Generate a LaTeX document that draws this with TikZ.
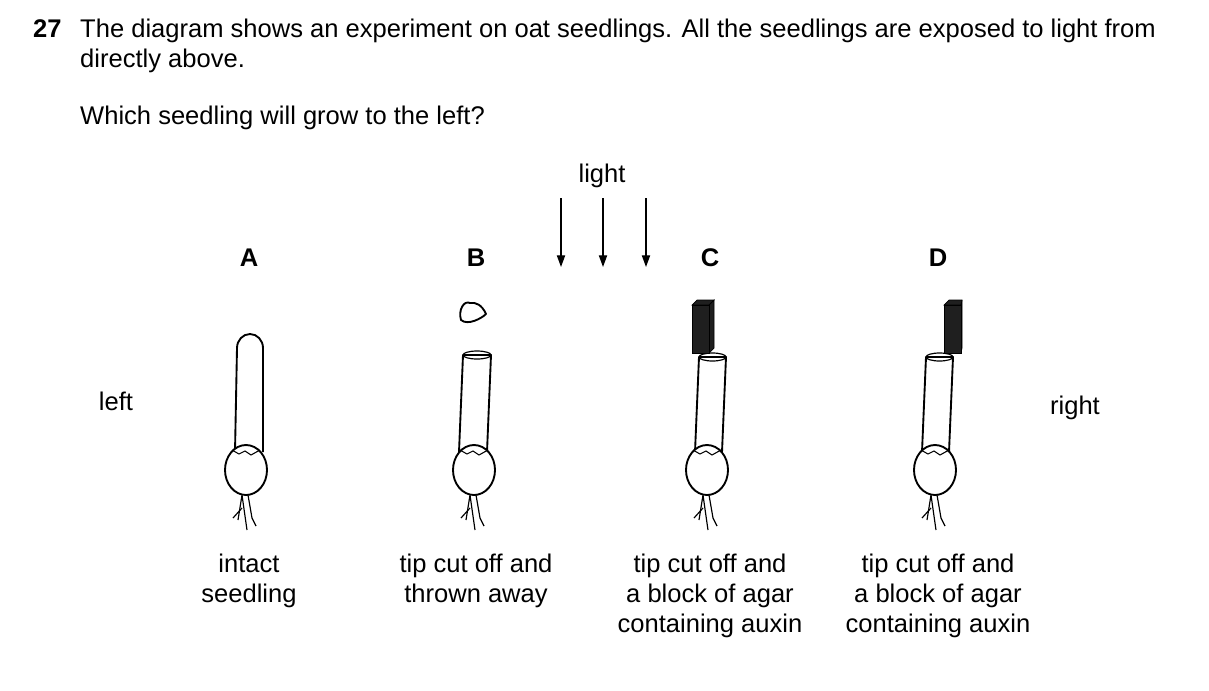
\documentclass[tikz,border=0pt]{standalone}
\usepackage{fontspec}
\setmainfont{Liberation Sans}
\usetikzlibrary{arrows.meta}
\tikzset{
  txt/.style={font=\fontsize{21.8}{25.5}\selectfont, inner sep=0pt},
  lbl/.style={txt, font=\fontsize{21.8}{25.5}\selectfont\bfseries},
  caption/.style={txt, align=center, anchor=north},
  outline/.style={draw, line width=1.6pt, line join=round},
  root/.style={draw, line width=1pt},
  ray/.style={draw, line width=1.2pt, -{Triangle[length=10pt, width=7pt]}},
  agar/.style={fill=black!88, draw=black, line width=0.6pt}
}
% lower part of a seedling: seed and roots, origin at the seed centre
\newcommand{\seedbase}{%
  \draw[outline, fill=white] (0,0) ellipse (21 and 25);
  \draw[line width=0.9pt] (-14,-20) -- (-7,-16) -- (-1,-19) -- (5,-15) -- (14,-20);
  \draw[root] (-4,25) -- (-8,50) (-4,25) -- (1,60) (2,25) -- (6,48) -- (10,56);
  \draw[root] (-4,38) -- (-13,48);
}
\begin{document}
\begin{tikzpicture}[x=0.03cm, y=-0.03cm]
  \useasboundingbox (0,0) rectangle (1209,690);
  % question text
  \node[txt, anchor=base west, font=\fontsize{21.8}{25.5}\selectfont\bfseries] (num) at (33,37) {27};
  \node[txt, anchor=base west] (q1) at (80,37) {The diagram shows an experiment on oat seedlings. All the seedlings are exposed to light from};
  \node[txt, anchor=base west] (q2) at (80,67) {directly above.};
  \node[txt, anchor=base west] (q3) at (80,124) {Which seedling will grow to the left?};

  % light
  \node[txt, anchor=base] (light) at (602,182) {light};
  \foreach \x [count=\i] in {561,603,646} {
    \coordinate (r\i a) at (\x,198);
    \coordinate (r\i b) at (\x,267);
    \path[ray] (r\i a) -- (r\i b);
  }
  \node[txt, anchor=base] (left) at (116,410) {left};
  \node[txt, anchor=base] (right) at (1075,414) {right};

  % letters
  \node[lbl, anchor=base] (A) at (249,266) {A};
  \node[lbl, anchor=base] (B) at (476,266) {B};
  \node[lbl, anchor=base] (C) at (710,266) {C};
  \node[lbl, anchor=base] (D) at (938,266) {D};

  % seedling A: intact
  \draw[outline, fill=white] (235,452) -- (237,348) arc[start angle=180, end angle=360, x radius=13, y radius=14] -- (263,452);
  \begin{scope}[shift={(246,470)}] \seedbase \end{scope}

  % seedling B: tip removed
  \draw[outline] (470,303) .. controls (464,300) and (458,310) .. (461,320)
     .. controls (468,326) and (482,318) .. (486,314) .. controls (482,305) and (476,302) .. (470,303);
  \draw[outline, fill=white] (459,452) -- (463,355) -- (491,355) -- (487,452);
  \draw[line width=1pt] (477,355) ellipse (14 and 4);
  \begin{scope}[shift={(474,470)}] \seedbase \end{scope}

  % seedling C: agar block on the left of the cut surface
  \draw[outline, fill=white] (695,452) -- (699,357) -- (726,357) -- (722,452);
  \draw[line width=1pt] (712.5,357) ellipse (13.5 and 4);
  \draw[agar] (692,305) -- (697,300) -- (714,300) -- (709,305) -- cycle;
  \draw[agar] (709,305) -- (714,300) -- (714,348) -- (709,353) -- cycle;
  \draw[agar] (692,305) rectangle (709,353);
  \begin{scope}[shift={(707,470)}] \seedbase \end{scope}

  % seedling D: agar block on the right of the cut surface
  \draw[outline, fill=white] (922,452) -- (926,357) -- (953,357) -- (949,452);
  \draw[line width=1pt] (939.5,357) ellipse (13.5 and 4);
  \draw[agar] (944,305) -- (949,300) -- (962,300) -- (961,305) -- cycle;
  \draw[agar] (961,305) -- (962,300) -- (962,348) -- (961,353) -- cycle;
  \draw[agar] (944,305) rectangle (961,353);
  \begin{scope}[shift={(935,470)}] \seedbase \end{scope}

  % captions
  \node[caption] (capA) at (249,554) {intact\\seedling};
  \node[caption] (capB) at (476,554) {tip cut off and\\thrown away};
  \node[caption] (capC) at (710,554) {tip cut off and\\a block of agar\\containing auxin};
  \node[caption] (capD) at (938,554) {tip cut off and\\a block of agar\\containing auxin};
\end{tikzpicture}
\end{document}
